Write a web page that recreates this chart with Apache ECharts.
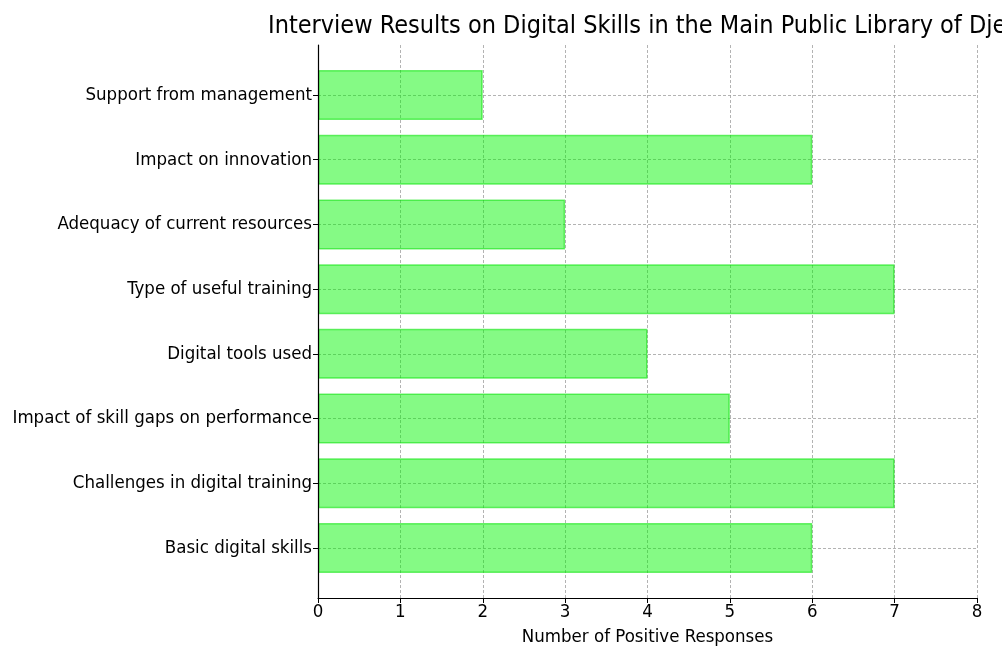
<!DOCTYPE html>
<html>
<head>
<meta charset="utf-8">
<script src="https://cdn.jsdelivr.net/npm/echarts@6/dist/echarts.min.js"></script>
<style>
  html, body { margin: 0; padding: 0; background: #fff; }
  #main { width: 1002px; height: 646px; }
</style>
</head>
<body>
<div id="main"></div>
<script>
const categories = [
  'Basic digital skills',
  'Challenges in digital training',
  'Impact of skill gaps on performance',
  'Digital tools used',
  'Type of useful training',
  'Adequacy of current resources',
  'Impact on innovation',
  'Support from management'
];
const responses = [6, 7, 5, 4, 7, 3, 6, 2];
const xTicks = [0, 1, 2, 3, 4, 5, 6, 7, 8];

const font = 'DejaVu Sans Condensed, DejaVu Sans, sans-serif';
const chart = echarts.init(document.getElementById('main'));

const dashed = { show: true, lineStyle: { color: '#a0a0a0', type: [3, 2], width: 0.8 } };

chart.setOption({
  animation: false,
  title: {
    text: 'Interview Results on Digital Skills in the Main Public Library of Djelfa',
    left: 263,
    top: 9,
    textStyle: { fontFamily: font, fontSize: 25, fontWeight: 'normal', color: '#000' }
  },
  grid: [
    // frame grid: axes lines, x ticks, vertical grid lines
    { left: 318, right: 25, top: 45, bottom: 48, outerBoundsMode: 'none', containLabel: false },
    // bar grid: category positions
    { left: 318, right: 25, top: 95, bottom: 98, outerBoundsMode: 'none', containLabel: false }
  ],
  xAxis: [
    {
      gridIndex: 0,
      type: 'value',
      min: xTicks[0],
      max: xTicks[xTicks.length - 1],
      interval: 1,
      name: 'Number of Positive Responses',
      nameLocation: 'middle',
      nameGap: 30,
      nameTextStyle: { fontFamily: font, fontSize: 18.5, color: '#000' },
      axisLine: { show: true, lineStyle: { color: '#000', width: 1.2 } },
      axisTick: { show: true, length: 5, lineStyle: { color: '#000' } },
      axisLabel: { fontFamily: font, fontSize: 18.5, color: '#000', margin: 5 },
      splitLine: dashed,
      z: 1
    },
    {
      gridIndex: 1,
      type: 'value',
      min: xTicks[0],
      max: xTicks[xTicks.length - 1],
      show: false
    }
  ],
  yAxis: [
    {
      gridIndex: 0,
      type: 'value',
      min: 0,
      max: 1,
      z: 10,
      axisLine: { show: true, lineStyle: { color: '#000', width: 1.2 } },
      axisTick: { show: false },
      axisLabel: { show: false },
      splitLine: { show: false }
    },
    {
      gridIndex: 1,
      type: 'category',
      data: categories,
      boundaryGap: false,
      axisLine: { show: false },
      axisTick: { show: true, length: 5, inside: false, lineStyle: { color: '#000' } },
      axisLabel: { fontFamily: font, fontSize: 18.5, color: '#000', margin: 6, interval: 0 },
      splitLine: { show: true, interval: 0, lineStyle: { color: '#a0a0a0', type: [3, 2], width: 0.8 } }
    }
  ],
  series: [
    {
      type: 'bar',
      xAxisIndex: 1,
      yAxisIndex: 1,
      data: responses,
      barWidth: 50,
      clip: false,
      itemStyle: {
        color: 'rgba(0, 245, 0, 0.48)',
        borderColor: 'rgba(0, 225, 0, 0.55)',
        borderWidth: 1.5
      },
      z: 3
    }
  ]
});
</script>
</body>
</html>
